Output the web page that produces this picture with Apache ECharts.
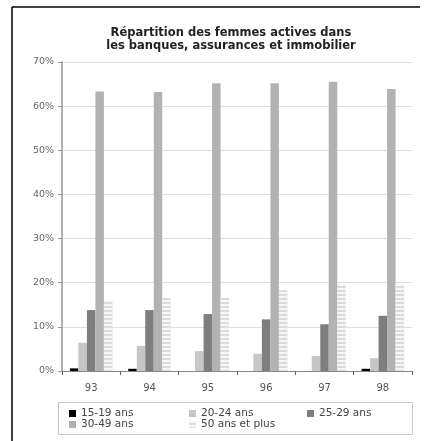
<!DOCTYPE html>
<html>
<head>
<meta charset="utf-8">
<script src="https://cdn.jsdelivr.net/npm/echarts@6/dist/echarts.min.js"></script>
<style>
  html, body { margin: 0; padding: 0; background: #fff; }
  #chart { width: 425px; height: 441px; }
</style>
</head>
<body>
<div id="chart"></div>
<script>
// Years (1993–1998) on the category axis
const years = ['93', '94', '95', '96', '97', '98'];

// Share of active women by age group, in percent
const age15to19 = [0.6, 0.5, 0, 0, 0, 0.5];
const age20to24 = [6.4, 5.7, 4.5, 3.9, 3.4, 2.9];
const age25to29 = [13.8, 13.8, 12.9, 11.7, 10.6, 12.5];
const age30to49 = [63.3, 63.2, 65.2, 65.2, 65.5, 63.9];
const age50plus = [15.9, 16.6, 16.6, 18.3, 19.7, 19.7];

const seriesNames = ['15-19 ans', '20-24 ans', '25-29 ans', '30-49 ans', '50 ans et plus'];
const yTicks = [0, 10, 20, 30, 40, 50, 60, 70];

const font = 'DejaVu Sans, Verdana, sans-serif';

// horizontal light stripes on the oldest age group
const stripes = {
  symbol: 'rect',
  symbolSize: 1,
  dashArrayX: [[1, 0]],
  dashArrayY: [1.5, 2],
  rotation: 0,
  color: 'rgba(255,255,255,0.75)'
};

const palette = ['#000000', '#c6c6c6', '#7e7e7e', '#b2b2b2', '#dcdcdc'];
const values = [age15to19, age20to24, age25to29, age30to49, age50plus];

const chart = echarts.init(document.getElementById('chart'), null, { renderer: 'canvas' });

const legendText = { fontFamily: font, fontSize: 10.5, color: '#444', lineHeight: 10 };
function legendColumn(names, left) {
  return {
    data: names,
    orient: 'vertical',
    left: left,
    top: 408,
    itemWidth: 7,
    itemHeight: 7,
    itemGap: 0,
    padding: 0,
    icon: 'rect',
    textStyle: legendText,
    selectedMode: false
  };
}

chart.setOption({
  animation: false,
  backgroundColor: '#fff',
  title: {
    text: 'Répartition des femmes actives dans\nles banques, assurances et immobilier',
    left: 226,
    top: 22,
    textAlign: 'center',
    textStyle: { fontFamily: font, fontSize: 11.5, fontWeight: 'bold', color: '#222', lineHeight: 13 }
  },
  legend: [
    legendColumn([seriesNames[0], seriesNames[3]], 69),
    legendColumn([seriesNames[1], seriesNames[4]], 189),
    legendColumn([seriesNames[2]], 307)
  ],
  grid: { left: 62, right: 13, top: 62, bottom: 70 },
  xAxis: {
    type: 'category',
    data: years,
    axisLine: { lineStyle: { color: '#888', width: 1 } },
    axisTick: { show: true, length: 4, lineStyle: { color: '#666' } },
    axisLabel: { fontFamily: font, fontSize: 10, color: '#555', margin: 12 }
  },
  yAxis: {
    type: 'value',
    min: 0,
    max: 70,
    interval: 10,
    axisLine: { show: true, lineStyle: { color: '#999', width: 1.5 } },
    axisTick: { show: true, length: 4, lineStyle: { color: '#999' } },
    axisLabel: {
      fontFamily: font, fontSize: 9.5, color: '#666', margin: 8,
      formatter: v => (yTicks.indexOf(v) >= 0 ? v + '%' : '')
    },
    splitLine: { show: true, lineStyle: { color: '#dedede', width: 1 } }
  },
  series: seriesNames.map((name, i) => ({
    name: name,
    type: 'bar',
    data: values[i],
    barWidth: 8.5,
    barGap: '0%',
    itemStyle: i === 4
      ? { color: palette[i], decal: stripes }
      : { color: palette[i] }
  })),
  graphic: [
    { type: 'line', shape: { x1: 12, y1: 7, x2: 420, y2: 7 }, style: { stroke: '#000', lineWidth: 1.5 } },
    { type: 'line', shape: { x1: 12, y1: 7, x2: 12, y2: 441 }, style: { stroke: '#000', lineWidth: 1.5 } },
    { type: 'rect', shape: { x: 58.5, y: 402.5, width: 354, height: 32 }, style: { fill: 'none', stroke: '#c8c8c8', lineWidth: 1 }, z: -1 }
  ]
});
</script>
</body>
</html>
